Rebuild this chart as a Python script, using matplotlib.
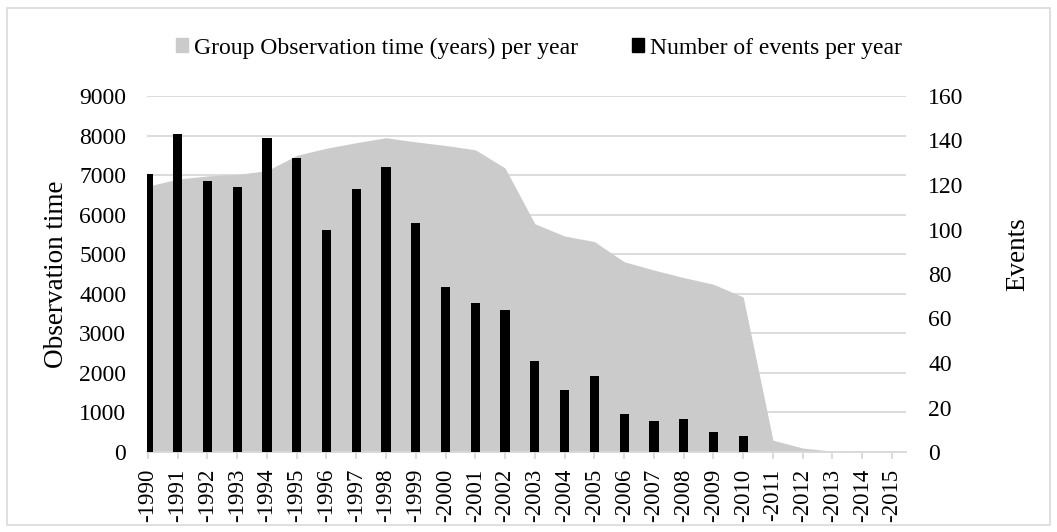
import matplotlib.pyplot as plt
from matplotlib.patches import Patch, Rectangle

plt.rcParams['font.family'] = ['Liberation Serif', 'DejaVu Serif']

# Data
years = list(range(1990, 2016))
obs_time = [6720, 6900, 6980, 7020, 7110, 7500, 7680, 7820, 7945, 7840,
            7750, 7640, 7180, 5770, 5460, 5320, 4810, 4600, 4410, 4240,
            3920, 300, 100, 20, 0, 0]
events = [125, 143, 122, 119, 141, 132, 100, 118, 128, 103,
          74, 67, 64, 41, 28, 34, 17, 14, 15, 9, 7]
tick_labels = [f"-{y}" for y in years]

area_color = '#cbcbcb'
grid_color = '#d9d9d9'
fs = 17

fig = plt.figure(figsize=(10.57, 5.32), dpi=100)
ax = fig.add_axes([147 / 1057, 1 - 452 / 532, 759 / 1057, 356 / 532])

x = list(range(len(years)))
ax.fill_between(x, obs_time, 0, color=area_color, lw=0, zorder=1)
ax.set_ylim(0, 9000)
ax.set_yticks(range(0, 9001, 1000))
ax.set_xlim(-0.03, 25.47)
ax.set_xticks(x)
ax.set_xticklabels(tick_labels, rotation=90, fontsize=16.5)
ax.set_axisbelow(True)
ax.yaxis.grid(True, color=grid_color, lw=1.3)
ax.tick_params(axis='y', length=0, labelsize=fs, pad=15)
ax.tick_params(axis='x', length=5, color=grid_color, width=1.3, pad=7)
for s in ['top', 'left', 'right']:
    ax.spines[s].set_visible(False)
ax.spines['bottom'].set_color(grid_color)
ax.spines['bottom'].set_linewidth(1.3)
ax.set_ylabel('Observation time', fontsize=19.5)
ax.yaxis.set_label_coords(-0.103, 0.5)

ax2 = ax.twinx()
ax2.bar(range(len(events)), events, width=0.31, color='black', zorder=3)
ax2.set_ylim(0, 160)
ax2.set_yticks(range(0, 161, 20))
ax2.tick_params(axis='y', length=0, labelsize=fs, pad=16)
for s in ['top', 'left', 'right', 'bottom']:
    ax2.spines[s].set_visible(False)
ax2.set_ylabel('Events', fontsize=19.5)
ax2.yaxis.set_label_coords(1.131, 0.557)

handles = [Patch(color=area_color), Patch(color='black')]
labels = ['Group Observation time (years) per year', 'Number of events per year']
fig.legend(handles, labels, loc='center', bbox_to_anchor=(0.51, 1 - 48 / 532),
           ncol=2, frameon=False, fontsize=fs, handlelength=0.5, handleheight=0.5,
           handletextpad=0.25, columnspacing=2.3)

fig.patches.append(Rectangle((7 / 1057, 7 / 532), 1 - 14 / 1057, 1 - 15 / 532,
                             transform=fig.transFigure, fill=False,
                             edgecolor=grid_color, lw=1.2))

fig.savefig('out.png', dpi=100)
